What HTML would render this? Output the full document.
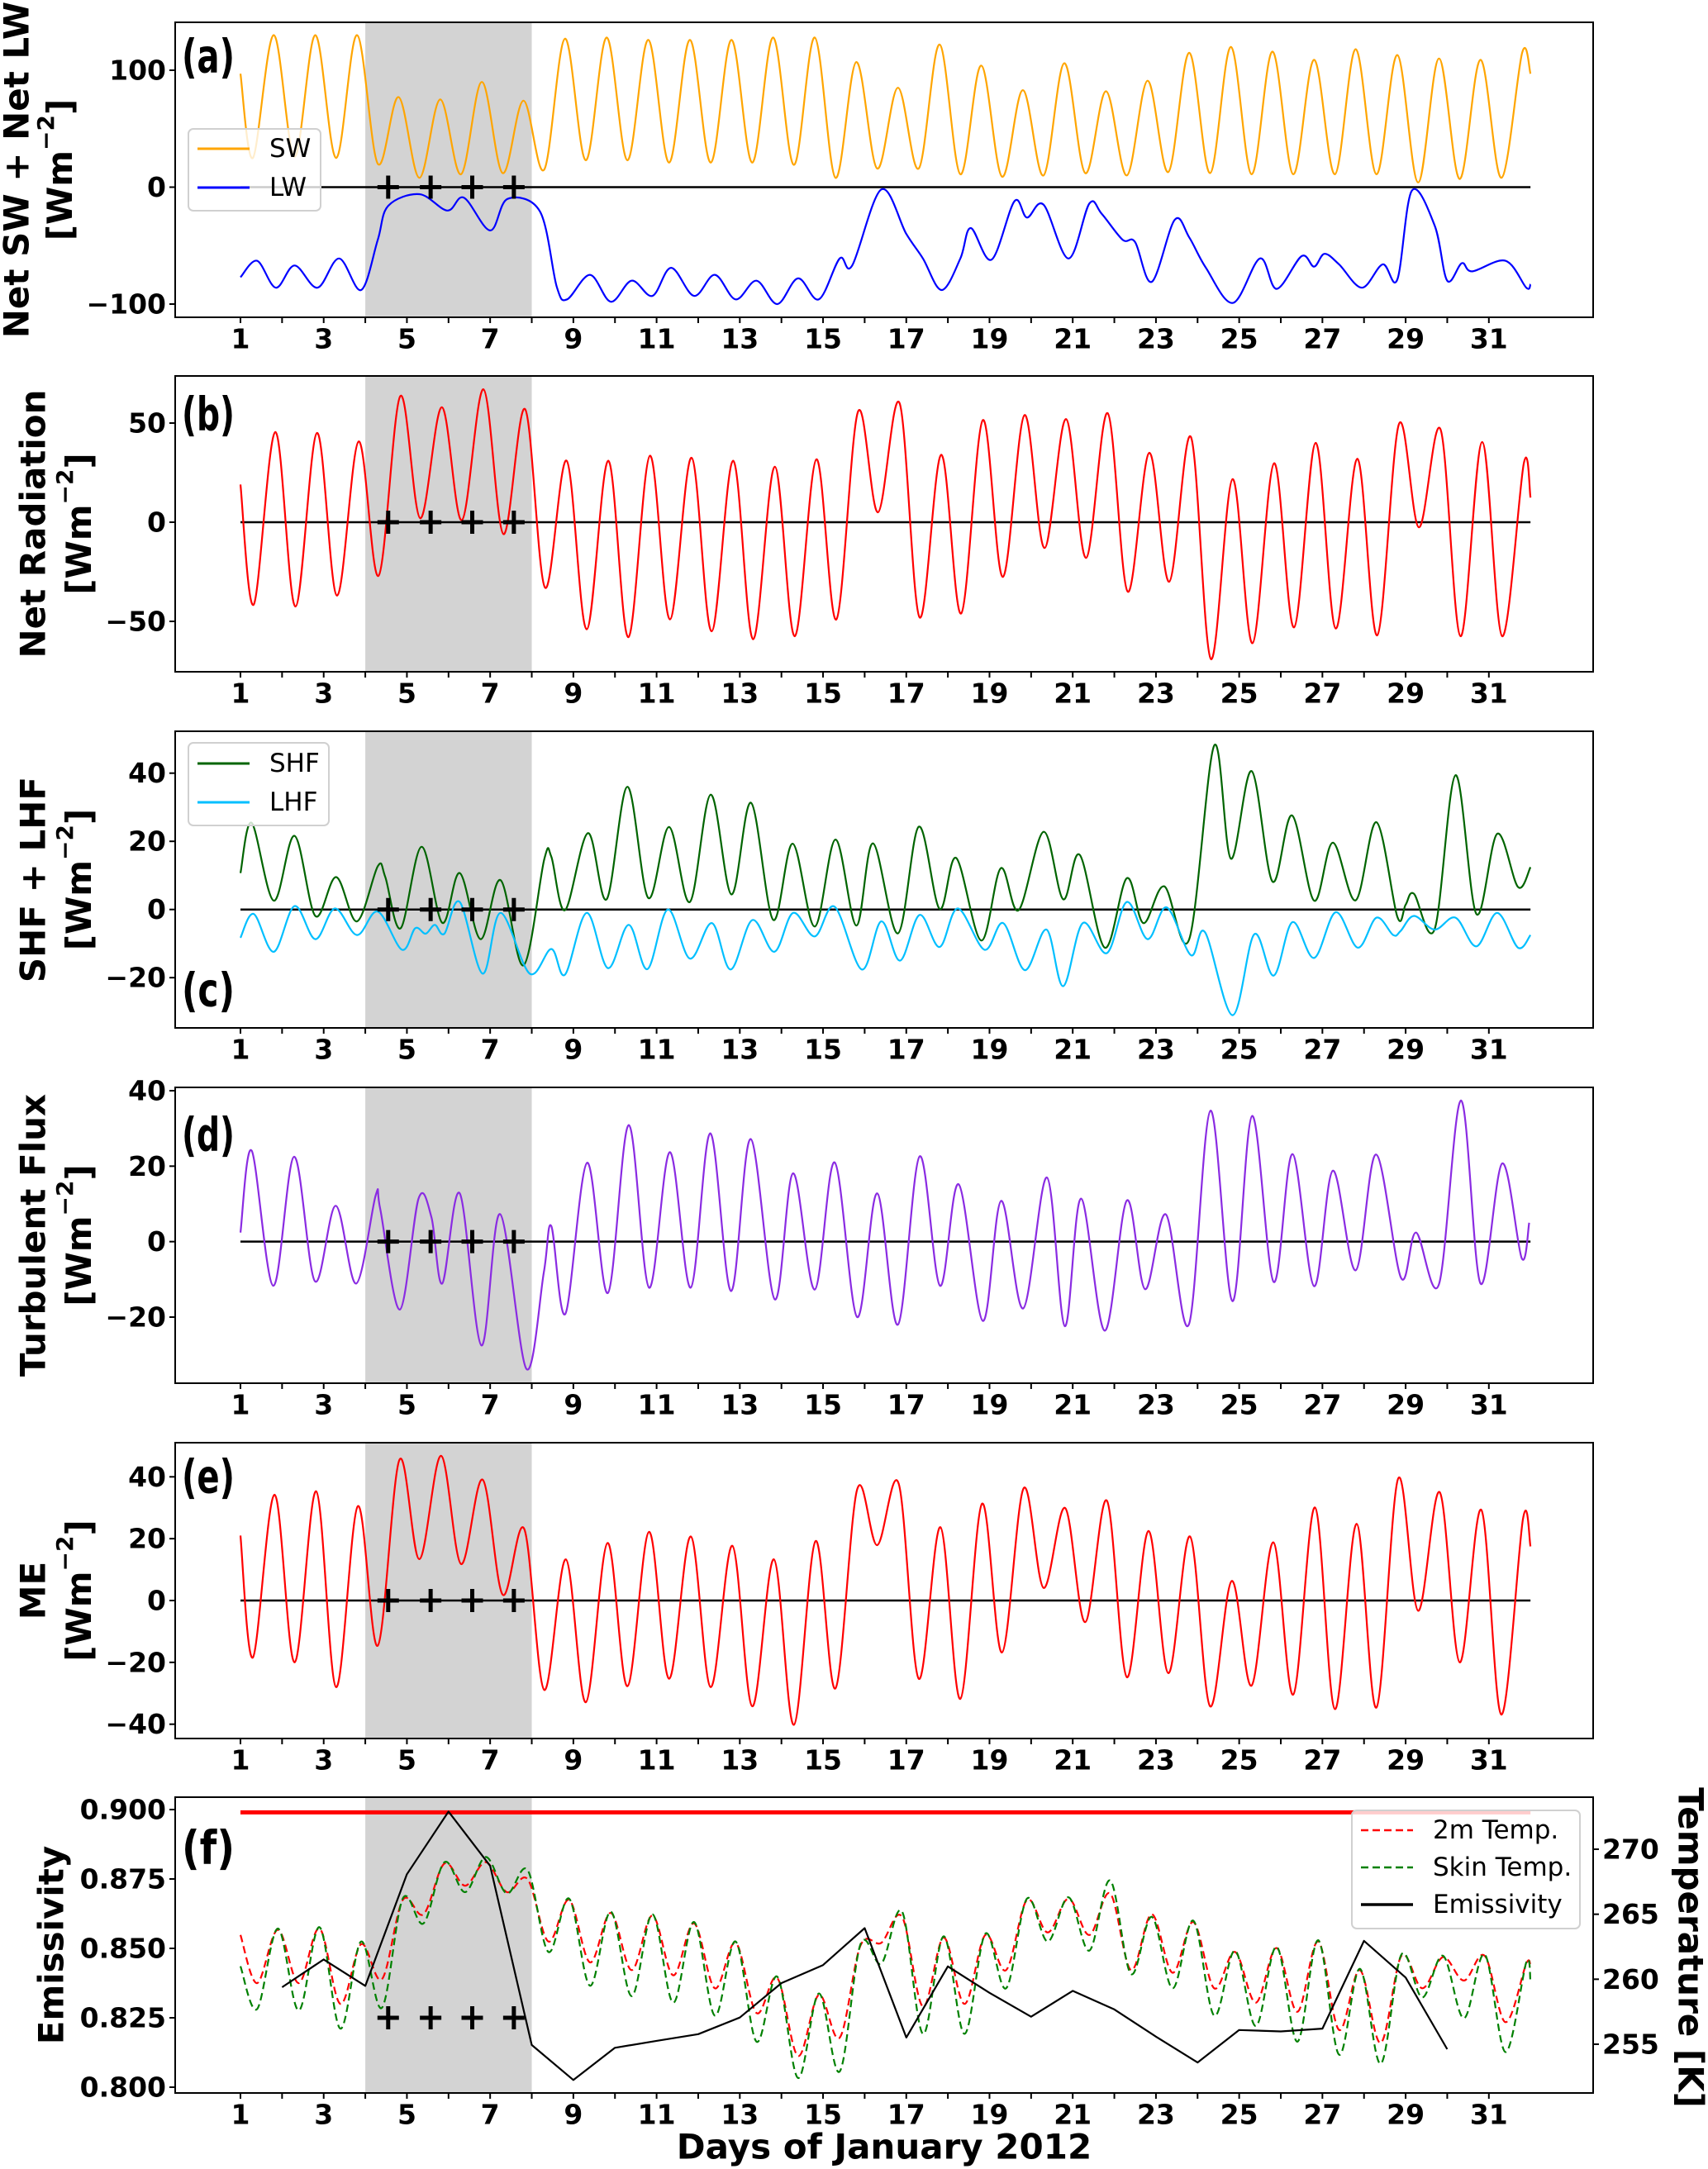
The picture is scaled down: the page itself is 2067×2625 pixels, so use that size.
<!DOCTYPE html>
<html><head><meta charset="utf-8"><title>Surface energy balance, January 2012</title>
<style>
html,body{margin:0;padding:0;background:#fff;}
svg{display:block;font-family:"DejaVu Sans","Liberation Sans",sans-serif;}
</style></head>
<body>
<svg id="chart" xmlns="http://www.w3.org/2000/svg" width="2067" height="2625" viewBox="0 0 2067 2625"></svg>
<script>
// ---------- data ----------
const dayTicks = [1,2,3,4,5,6,7,8,9,10,11,12,13,14,15,16,17,18,19,20,21,22,23,24,25,26,27,28,29,30,31];
const dayLabels = [1,3,5,7,9,11,13,15,17,19,21,23,25,27,29,31];
const shadeDays = [4,8];
const crossDays = [4.55,5.57,6.57,7.57];

// (a) SW diurnal extremes
const swStart = 97, swEnd = 97;
const swTroughs = [25,26,25,20,8,11,12,15,23,23,21,21,21,19,8,16,16,11,9,10,12,10,13,12,11,11,11,11,4,7,8];
const swPeaks = [130,130,130,77,75,90,74,127,128,126,126,126,128,128,107,85,122,104,83,106,82,91,115,120,116,109,118,113,110,109,115];
// (a) LW
const lwDays = [1,1.4,1.85,2.3,2.85,3.37,3.9,4.3,4.55,5.3,5.97,6.37,7.0,7.42,8.2,8.6,8.85,9.4,9.9,10.4,10.9,11.35,11.9,12.4,12.9,13.4,13.9,14.4,14.9,15.4,15.7,16.4,17.0,17.4,17.85,18.3,18.55,19.05,19.6,19.9,20.3,20.9,21.4,21.7,22.2,22.5,22.9,23.45,23.8,24.2,24.85,25.5,25.9,26.5,26.8,27.05,27.4,27.95,28.45,28.8,29.15,29.7,30.0,30.35,30.6,31.4,31.9,32];
const lwVals = [-77,-63,-86,-67,-86,-61,-88,-45,-16,-6,-20,-9,-37,-10,-21,-85,-96,-75,-98,-80,-93,-69,-93,-75,-96,-80,-100,-78,-96,-61,-67,-2,-40,-61,-88,-61,-35,-62,-12,-26,-15,-61,-14,-23,-45,-47,-81,-28,-43,-69,-99,-61,-87,-59,-68,-57,-66,-86,-66,-79,-3,-33,-80,-65,-72,-63,-86,-83];
// (b) Net radiation
const nrStart = 19, nrEnd = 12.4;
const nrTroughs = [-41.5,-42.5,-37,-27,2,1,-6,-33,-54,-58,-49,-55,-59,-57.5,-49,5,-48,-46,-27.6,-13,-18,-35,-30,-69,-61,-53,-53.6,-57,-2.6,-57.5,-57.5];
const nrPeaks = [45.5,45,40.7,63.6,58,67,57,31,31,33.5,32.5,31,28,31.7,55.7,60,34,51.5,54,52,55,35,43,21.7,29.7,40,32,49.5,46.7,40.4,29.7];
// (c) SHF / LHF
const shfDays = [1.0,1.27,1.8,2.3,2.8,3.3,3.8,4.3,4.48,4.85,5.35,5.85,6.27,6.77,7.25,7.8,8.3,8.47,8.8,9.35,9.8,10.3,10.8,11.3,11.8,12.3,12.8,13.27,13.8,14.27,14.8,15.3,15.8,16.2,16.8,17.3,17.8,18.2,18.8,19.27,19.7,20.3,20.77,21.17,21.77,22.3,22.7,23.2,23.8,24.4,24.8,25.3,25.8,26.27,26.8,27.25,27.8,28.3,28.8,29.0,29.2,29.7,30.2,30.7,31.2,31.7,32];
const shfVals = [10.7,25.4,2.6,21.6,-1.9,9.5,-3.5,12.7,9.5,-5.5,18.4,-3.9,10.7,-8.7,8.6,-16.4,14.7,15.5,-0.2,22.4,3,36,3.4,24.2,2.2,33.7,4.4,31.3,-3,19.3,-5,20.5,-4.7,19.4,-7,24.3,0.2,15.1,-9.1,12.1,-0.2,22.8,3,16,-11.2,9.2,-4,6.8,-8.7,48.1,14.9,40.6,8.2,27.6,2.6,19.6,2.7,25.6,-2.1,1.4,4.6,-5.7,39.4,-1.3,22.2,6.6,12.4];
const lhfDays = [1.0,1.32,1.8,2.3,2.8,3.27,3.8,4.3,4.88,5.2,5.45,5.67,5.9,6.27,6.82,7.25,7.95,8.47,8.8,9.32,9.83,10.33,10.78,11.27,11.8,12.33,12.78,13.3,13.83,14.28,14.8,15.28,15.93,16.4,16.85,17.32,17.8,18.24,18.88,19.33,19.85,20.37,20.77,21.24,21.82,22.3,22.8,23.26,23.84,24.18,24.84,25.36,25.83,26.28,26.8,27.32,27.85,28.3,28.7,28.88,29.2,29.7,30.2,30.7,31.2,31.7,32];
const lhfVals = [-8.3,-1.3,-12.4,1,-8.7,0.3,-7.5,-0.6,-11.8,-5.5,-7.1,-4.5,-7.1,2.2,-18.8,-1,-18.8,-11.6,-19.1,-1,-17.2,-4.5,-17.5,0,-14.4,-4,-17.6,-3.1,-12.4,-1,-7.9,0.8,-17.6,-3.5,-15,-1.6,-11,0.3,-11.8,-4,-17.8,-5.9,-22.5,-4,-12.8,2.2,-8.7,0.6,-13.4,-6.7,-31,-7.3,-19.4,-3.7,-14.2,-0.8,-11.2,-2.4,-7.5,-6.3,-1.9,-5.9,-2.4,-10.8,-1,-11.2,-7.5];
// (d) Turbulent flux
const tfDays = [1.0,1.27,1.79,2.29,2.79,3.29,3.78,4.25,4.36,4.83,5.28,5.59,5.85,6.27,6.79,7.24,7.87,8.29,8.47,8.81,9.33,9.83,10.33,10.82,11.32,11.82,12.29,12.79,13.26,13.84,14.28,14.8,15.28,15.82,16.3,16.8,17.32,17.81,18.26,18.84,19.28,19.81,20.38,20.81,21.2,21.77,22.3,22.74,23.24,23.79,24.31,24.84,25.31,25.83,26.28,26.8,27.25,27.8,28.29,28.89,29.25,29.8,30.33,30.8,31.32,31.79,31.97];
const tfVals = [2.4,24.1,-11.7,22.5,-10.5,9.5,-11.1,12.3,8.6,-18,11.4,6.4,-11.1,12.8,-27.5,7.3,-33.7,-8.2,4.1,-19.1,20.9,-13.6,30.9,-12.2,23.7,-12.2,28.7,-13.1,27.2,-15.3,18.1,-12.7,21,-20,12.8,-22,22.6,-11.7,15.2,-21,10.8,-17.7,17,-22.4,11.4,-23.6,10.9,-12.6,7.2,-22,34.7,-15.8,33.3,-10.7,23.2,-11.8,18.8,-7.6,23.1,-9.6,2.4,-11.3,37.4,-11.1,20.7,-4.4,5];
// (e) Melt energy
const meStart = 21, meEnd = 17.5;
const meTroughs = [-18.4,-20,-28,-14.6,13.4,11.8,1.9,-28.9,-32.9,-27.7,-25.3,-28,-34.2,-40.2,-28.4,17.9,-25.3,-31.8,-16.8,4.1,-7,-24.8,-23.5,-34.2,-27.5,-30.4,-35.1,-34.6,-3.3,-20,-36.9];
const mePeaks = [34.2,35.3,30.5,45.5,46.8,39.1,23.1,13.3,18.6,22.2,20.7,17.7,13.3,19.2,35.9,37.7,23.7,31.3,36.3,29.9,32.3,22.5,20.7,6.3,18.8,30.1,24.8,39.4,35,29.3,26.4];
// (f) Emissivity and temperatures
const emisDays = [2,3,4,5,6,7,8,9,10,11,12,13,14,15,16,17,18,19,20,21,22,23,24,25,26,27,28,29,30];
const emisVals = [0.836,0.846,0.8365,0.8767,0.8993,0.8797,0.8152,0.8026,0.8142,0.8167,0.8191,0.8251,0.8375,0.844,0.8573,0.8179,0.8435,0.834,0.8254,0.8347,0.828,0.8182,0.8089,0.8206,0.8201,0.8211,0.8527,0.8395,0.8137];
const refEmis = 0.899;
const t2Start = 263.4, t2End = 260.9;
const t2Troughs = [259.7,259.7,258.1,260,265,267.2,266.7,262.9,261.3,260.7,260.3,259.3,257.4,254.1,255.5,262.8,257.9,258.1,260.7,263.6,263.4,260.7,260.5,259.3,258.2,257.5,256.1,255.1,259.3,259.9,256.7];
const t2Peaks = [263.8,263.9,262.7,266.1,268.9,269,267.7,266.1,265.1,264.9,264.3,262.8,260.1,258.8,262.6,264.8,263.2,263.4,266.1,266.2,266.6,265,264.4,262.1,262.4,262.9,260.7,261.8,261.7,261.8,261.2];
const tsStart = 261.0, tsEnd = 259.8;
const tsTroughs = [257.7,257.6,256.2,257.8,264.3,266.7,266.6,262.1,259.5,258.7,258.2,257.2,255.2,252.4,252.9,261.2,255.8,255.8,259.3,262.9,262.2,260.4,259.3,257.2,256.4,255.2,254.2,253.5,258.6,257,254.4];
const tsPeaks = [263.9,264.0,262.9,266.2,269.0,269.4,268.4,266.2,265.2,265.0,264.4,262.9,260.2,258.9,262.7,265.2,263.3,263.5,266.2,266.3,267.6,264.8,264.5,262.2,262.5,263.0,260.8,261.9,261.8,261.9,261.3];

// ---------- layout ----------
const NS = "http://www.w3.org/2000/svg";
const svg = document.getElementById('chart');
const X0 = 212, X1 = 1928;
const xDay = d => 291 + (d - 1) * 50.36;
function lin(v0, p0, v1, p1){ return v => p0 + (v - v0) * (p1 - p0) / (v1 - v0); }
function mk(tag, attrs, parent){
  const el = document.createElementNS(NS, tag);
  for (const k in attrs) el.setAttribute(k, attrs[k]);
  (parent || svg).appendChild(el);
  return el;
}
function smooth(pts){
  let d = 'M' + pts[0][0].toFixed(1) + ',' + pts[0][1].toFixed(1);
  for (let i = 0; i < pts.length - 1; i++){
    const p0 = pts[Math.max(0, i - 1)], p1 = pts[i], p2 = pts[i + 1], p3 = pts[Math.min(pts.length - 1, i + 2)];
    const c1x = p1[0] + (p2[0] - p0[0]) / 6, c1y = p1[1] + (p2[1] - p0[1]) / 6;
    const c2x = p2[0] - (p3[0] - p1[0]) / 6, c2y = p2[1] - (p3[1] - p1[1]) / 6;
    d += 'C' + c1x.toFixed(1) + ',' + c1y.toFixed(1) + ' ' + c2x.toFixed(1) + ',' + c2y.toFixed(1) + ' ' + p2[0].toFixed(1) + ',' + p2[1].toFixed(1);
  }
  return d;
}
function diurnalPts(start, troughs, peaks, end, tOff, pOff){
  const out = [[1, start]];
  for (let i = 0; i < troughs.length; i++){ out.push([i + 1 + tOff, troughs[i]]); out.push([i + 1 + pOff, peaks[i]]); }
  out.push([32, end]);
  return out;
}
function zipPts(days, vals){ return days.map((d, i) => [d, vals[i]]); }

const panels = [
  {id:'a', top:27, bot:384, y:lin(100,85,-100,368), ticks:[100,0,-100], fmt:v=>String(v), lab:69, t1:'Net SW + Net LW', t1x:20, t2x:72},
  {id:'b', top:455, bot:813, y:lin(50,512,-50,752), ticks:[50,0,-50], fmt:v=>String(v), lab:502, t1:'Net Radiation', t1x:40, t2x:95},
  {id:'c', top:885, bot:1244, y:lin(40,935.7,-20,1183.2), ticks:[40,20,0,-20], fmt:v=>String(v), lab:1199, t1:'SHF + LHF', t1x:40, t2x:95},
  {id:'d', top:1316, bot:1674, y:lin(40,1320,-20,1594), ticks:[40,20,0,-20], fmt:v=>String(v), lab:1374, t1:'Turbulent Flux', t1x:40, t2x:95},
  {id:'e', top:1746, bot:2104, y:lin(40,1787.3,-40,2086.7), ticks:[40,20,0,-20,-40], fmt:v=>String(v), lab:1788, t1:'ME', t1x:40, t2x:95},
  {id:'f', top:2175, bot:2533, y:lin(0.9,2190,0.8,2526), ticks:[0.9,0.875,0.85,0.825,0.8], fmt:v=>v.toFixed(3), lab:2237, t1:'Emissivity', t1x:62, t2x:null}
];
const yTempF = lin(270, 2238, 255, 2474);
const tempTicks = [270,265,260,255];
const minus = s => s.replace('-', '\u2212');

function drawLine(g, pts, yf, color, w, name, dash, straight){
  const p = pts.map(q => [xDay(q[0]), yf(q[1])]);
  const d = straight ? 'M' + p.map(q => q[0].toFixed(1) + ',' + q[1].toFixed(1)).join('L') : smooth(p);
  const el = mk('path', {d:d, fill:'none', stroke:color, 'stroke-width':w, 'stroke-linejoin':'round'}, g);
  if (dash) el.setAttribute('stroke-dasharray', dash);
  
  
}
function legend(g, x, y, w, h, entries, name){
  const lg = mk('g', {}, g);
  
  
  mk('rect', {x:x, y:y, width:w, height:h, rx:6, fill:'#fff', 'fill-opacity':0.8, stroke:'#d0d0d0', 'stroke-width':2}, lg);
  entries.forEach(en => {
    const eg = mk('g', {}, lg);
    
    
    const ln = mk('line', {x1:x + 11, x2:x + 74, y1:en.y, y2:en.y, stroke:en.color, 'stroke-width':en.w || 3}, eg);
    if (en.dash) ln.setAttribute('stroke-dasharray', en.dash);
    const t = mk('text', {x:x + 98, y:en.y, 'font-size':31, 'dominant-baseline':'central', fill:'#000'}, eg);
    t.textContent = en.label;
  });
}

panels.forEach(P => {
  const g = mk('g', {});
  
  
  const sh = mk('rect', {x:xDay(shadeDays[0]), y:P.top, width:xDay(shadeDays[1]) - xDay(shadeDays[0]), height:P.bot - P.top, fill:'#d3d3d3'}, g);
  
  
  if (P.id !== 'f'){
    const z = mk('line', {x1:xDay(1), x2:xDay(32), y1:P.y(0), y2:P.y(0), stroke:'#000', 'stroke-width':2.5}, g);
    
    
  }
  if (P.id === 'a'){
    drawLine(g, diurnalPts(swStart, swTroughs, swPeaks, swEnd, 0.3, 0.8), P.y, '#FFA500', 2.2, 'sw-line');
    drawLine(g, zipPts(lwDays, lwVals), P.y, '#0000FF', 2.2, 'lw-line');
  } else if (P.id === 'b'){
    drawLine(g, diurnalPts(nrStart, nrTroughs, nrPeaks, nrEnd, 0.32, 0.84), P.y, '#FF0000', 2.2, 'net-radiation-line');
  } else if (P.id === 'c'){
    drawLine(g, zipPts(shfDays, shfVals), P.y, '#006400', 2.2, 'shf-line');
    drawLine(g, zipPts(lhfDays, lhfVals), P.y, '#00BFFF', 2.2, 'lhf-line');
  } else if (P.id === 'd'){
    drawLine(g, zipPts(tfDays, tfVals), P.y, '#8A2BE2', 2.2, 'turbulent-flux-line');
  } else if (P.id === 'e'){
    drawLine(g, diurnalPts(meStart, meTroughs, mePeaks, meEnd, 0.3, 0.82), P.y, '#FF0000', 2.2, 'me-line');
  } else {
    const rl = mk('line', {x1:xDay(1), x2:xDay(32), y1:P.y(refEmis), y2:P.y(refEmis), stroke:'#FF0000', 'stroke-width':5}, g);
    
    
    drawLine(g, diurnalPts(t2Start, t2Troughs, t2Peaks, t2End, 0.4, 0.9), yTempF, '#FF0000', 2.2, 'temp-2m-line', '9,5');
    drawLine(g, diurnalPts(tsStart, tsTroughs, tsPeaks, tsEnd, 0.4, 0.9), yTempF, '#008000', 2.2, 'skin-temp-line', '9,5');
    drawLine(g, zipPts(emisDays, emisVals), P.y, '#000', 2.2, 'emissivity-line', null, true);
  }
  const cy = P.id === 'f' ? P.y(0.825) : P.y(0);
  crossDays.forEach(d => {
    const m = mk('path', {d:'M' + (xDay(d) - 13) + ',' + cy + 'H' + (xDay(d) + 13) + 'M' + xDay(d) + ',' + (cy - 14) + 'V' + (cy + 14), stroke:'#000', 'stroke-width':5, fill:'none'}, g);
    
    
  });
  const fr = mk('rect', {x:X0, y:P.top, width:X1 - X0, height:P.bot - P.top, fill:'none', stroke:'#000', 'stroke-width':2}, g);
  
  
  const xa = mk('g', {}, g);
  
  
  dayTicks.forEach(d => { mk('line', {x1:xDay(d), x2:xDay(d), y1:P.bot, y2:P.bot + 7, stroke:'#000', 'stroke-width':2}, xa); });
  dayLabels.forEach(d => {
    const t = mk('text', {x:xDay(d), y:P.bot + 26, 'font-size':33, 'font-weight':'bold', 'text-anchor':'middle', 'dominant-baseline':'central'}, xa);
    
    
    t.textContent = d;
  });
  const ya = mk('g', {}, g);
  
  
  P.ticks.forEach(v => {
    mk('line', {x1:X0 - 7, x2:X0, y1:P.y(v), y2:P.y(v), stroke:'#000', 'stroke-width':2}, ya);
    const t = mk('text', {x:X0 - 11, y:P.y(v), 'font-size':33, 'font-weight':'bold', 'text-anchor':'end', 'dominant-baseline':'central'}, ya);
    
    
    t.textContent = minus(P.fmt(v));
  });
  const pl = mk('text', {x:220, y:P.lab, 'font-size':56, 'font-weight':'bold', 'dominant-baseline':'central', textLength:64, lengthAdjust:'spacingAndGlyphs'}, g);
  
  
  pl.textContent = '(' + P.id + ')';
  const cyT = (P.top + P.bot) / 2;
  const t1 = mk('text', {transform:'translate(' + P.t1x + ',' + cyT + ') rotate(-90)', 'font-size':42, 'font-weight':'bold', 'text-anchor':'middle', 'dominant-baseline':'central'}, g);
  
  
  t1.textContent = P.t1;
  if (P.t2x){
    const t2 = mk('text', {transform:'translate(' + P.t2x + ',' + cyT + ') rotate(-90)', 'font-size':42, 'font-weight':'bold', 'text-anchor':'middle', 'dominant-baseline':'central'}, g);
    
    
    const a = mk('tspan', {}, t2); a.textContent = '[Wm';
    const s = mk('tspan', {'baseline-shift':'super', 'font-size':28}, t2); s.textContent = '\u22122';
    const b = mk('tspan', {}, t2); b.textContent = ']';
  }
  if (P.id === 'a'){
    legend(g, 228, 156, 160, 99, [{key:'sw', label:'SW', color:'#FFA500', y:180}, {key:'lw', label:'LW', color:'#0000FF', y:227}], 'legend-a');
  }
  if (P.id === 'c'){
    legend(g, 228, 899, 170, 100, [{key:'shf', label:'SHF', color:'#006400', y:924}, {key:'lhf', label:'LHF', color:'#00BFFF', y:971}], 'legend-c');
  }
  if (P.id === 'f'){
    const ra = mk('g', {}, g);
    
    
    tempTicks.forEach(v => {
      mk('line', {x1:X1, x2:X1 + 7, y1:yTempF(v), y2:yTempF(v), stroke:'#000', 'stroke-width':2}, ra);
      const t = mk('text', {x:X1 + 11, y:yTempF(v), 'font-size':33, 'font-weight':'bold', 'dominant-baseline':'central'}, ra);
      
      
      t.textContent = v;
    });
    const rt = mk('text', {transform:'translate(2046,2357) rotate(90)', 'font-size':42, 'font-weight':'bold', 'text-anchor':'middle', 'dominant-baseline':'central'}, g);
    
    
    rt.textContent = 'Temperature [K]';
    legend(g, 1636, 2191, 276, 143, [
      {key:'t2m', label:'2m Temp.', color:'#FF0000', y:2215, dash:'9,5', w:2.5},
      {key:'tskin', label:'Skin Temp.', color:'#008000', y:2260, dash:'9,5', w:2.5},
      {key:'emis', label:'Emissivity', color:'#000', y:2305, w:3.5}], 'legend-f');
    const xt = mk('text', {x:1070, y:2598, 'font-size':42, 'font-weight':'bold', 'text-anchor':'middle', 'dominant-baseline':'central'}, g);
    
    
    xt.textContent = 'Days of January 2012';
  }
});
</script>
</body></html>
